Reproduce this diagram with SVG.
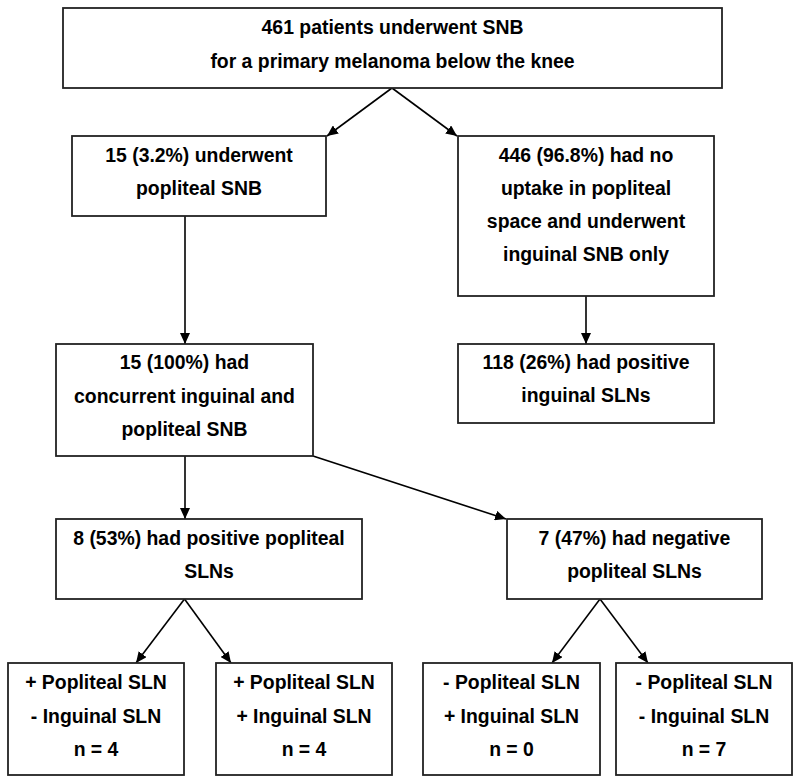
<svg xmlns="http://www.w3.org/2000/svg" width="800" height="784" viewBox="0 0 800 784">
<style>
.box{fill:#fff;stroke:#222;stroke-width:1.8}
.t{font-family:"Liberation Sans",Arial,sans-serif;font-weight:bold;font-size:19.4px;fill:#000;text-anchor:middle}
.c{stroke:#000;stroke-width:1.6;fill:none;marker-end:url(#ah)}
</style>
<defs>
<marker id="ah" markerUnits="userSpaceOnUse" markerWidth="12" markerHeight="10" refX="11" refY="5" orient="auto">
<path d="M0,0 L11,5 L0,10 z" fill="#000"/>
</marker>
</defs>
<rect width="800" height="784" fill="#fff"/>
<g id="connectors">
<line class="c" x1="392" y1="88" x2="327" y2="136"/>
<line class="c" x1="392" y1="88" x2="457" y2="136"/>
<line class="c" x1="185" y1="216" x2="185" y2="344"/>
<line class="c" x1="586" y1="296" x2="586" y2="344"/>
<line class="c" x1="185" y1="456" x2="185" y2="519"/>
<line class="c" x1="313" y1="456" x2="506" y2="519"/>
<line class="c" x1="184.5" y1="599" x2="136" y2="663"/>
<line class="c" x1="184.5" y1="599" x2="231" y2="663"/>
<line class="c" x1="600" y1="599" x2="552" y2="663"/>
<line class="c" x1="600" y1="599" x2="648" y2="663"/>
</g>
<g id="n1">
<rect class="box" x="63" y="8" width="659" height="80"/>
<text class="t" x="392.5" y="34">461 patients underwent SNB</text>
<text class="t" x="392.5" y="68">for a primary melanoma below the knee</text>
</g>
<g id="n2">
<rect class="box" x="72" y="136" width="254" height="80"/>
<text class="t" x="199" y="162">15 (3.2%) underwent</text>
<text class="t" x="199" y="195">popliteal SNB</text>
</g>
<g id="n3">
<rect class="box" x="458" y="136" width="256" height="160"/>
<text class="t" x="586" y="162">446 (96.8%) had no</text>
<text class="t" x="586" y="195">uptake in popliteal</text>
<text class="t" x="586" y="228">space and underwent</text>
<text class="t" x="586" y="261">inguinal SNB only</text>
</g>
<g id="n4">
<rect class="box" x="56" y="344" width="257" height="112"/>
<text class="t" x="184.5" y="369">15 (100%) had</text>
<text class="t" x="184.5" y="403">concurrent inguinal and</text>
<text class="t" x="184.5" y="436">popliteal SNB</text>
</g>
<g id="n5">
<rect class="box" x="458" y="344" width="256" height="79"/>
<text class="t" x="586" y="369">118 (26%) had positive</text>
<text class="t" x="586" y="402">inguinal SLNs</text>
</g>
<g id="n6">
<rect class="box" x="56" y="519" width="306" height="80"/>
<text class="t" x="209" y="545">8 (53%) had positive popliteal</text>
<text class="t" x="209" y="578">SLNs</text>
</g>
<g id="n7">
<rect class="box" x="507" y="519" width="255" height="80"/>
<text class="t" x="634.5" y="545">7 (47%) had negative</text>
<text class="t" x="634.5" y="578">popliteal SLNs</text>
</g>
<g id="n8">
<rect class="box" x="8" y="663" width="176" height="112"/>
<text class="t" x="96" y="689">+ Popliteal SLN</text>
<text class="t" x="96" y="723">- Inguinal SLN</text>
<text class="t" x="96" y="756">n = 4</text>
</g>
<g id="n9">
<rect class="box" x="216" y="663" width="176" height="112"/>
<text class="t" x="304" y="689">+ Popliteal SLN</text>
<text class="t" x="304" y="723">+ Inguinal SLN</text>
<text class="t" x="304" y="756">n = 4</text>
</g>
<g id="n10">
<rect class="box" x="423" y="663" width="177" height="112"/>
<text class="t" x="511.5" y="689">- Popliteal SLN</text>
<text class="t" x="511.5" y="723">+ Inguinal SLN</text>
<text class="t" x="511.5" y="756">n = 0</text>
</g>
<g id="n11">
<rect class="box" x="616" y="663" width="176" height="112"/>
<text class="t" x="704" y="689">- Popliteal SLN</text>
<text class="t" x="704" y="723">- Inguinal SLN</text>
<text class="t" x="704" y="756">n = 7</text>
</g>
</svg>
